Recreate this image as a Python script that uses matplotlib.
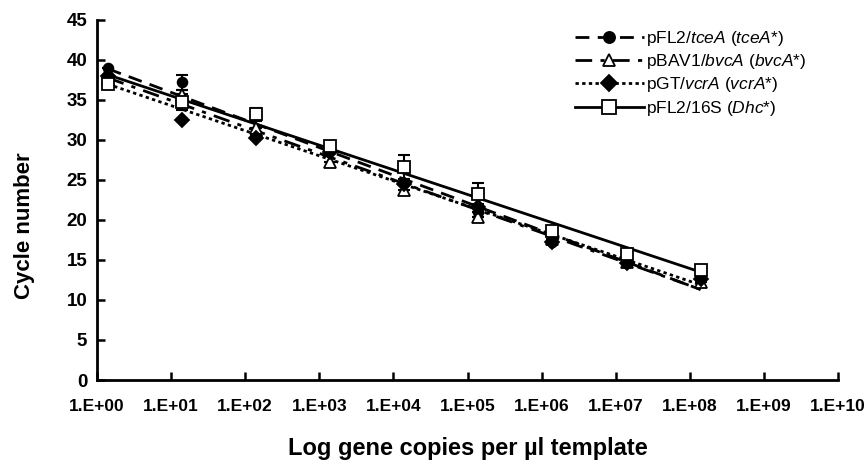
import numpy as np
import matplotlib.pyplot as plt

plt.rcParams['font.family'] = ['Liberation Sans', 'DejaVu Sans']
plt.rcParams['mathtext.fontset'] = 'custom'
plt.rcParams['mathtext.rm'] = 'Liberation Sans'
plt.rcParams['mathtext.it'] = 'Liberation Sans:italic'

copies = [1.4, 1.4e1, 1.4e2, 1.4e3, 1.4e4, 1.4e5, 1.4e6, 1.4e7, 1.4e8]

tcea = [39.0, 37.2, 30.6, 28.8, 24.6, 21.0, 17.3, 14.6, 12.8]
tcea_err = [0, 0.9, 0, 0, 0, 0, 0, 0, 0]
bvca = [37.6, 35.6, 31.5, 27.3, 23.8, 20.4, 17.6, 14.8, 12.3]
bvca_err = [0, 0.6, 0, 0, 0, 0, 0, 0, 0]
vcra = [38.0, 32.5, 30.3, 28.5, 24.5, 21.6, 17.3, 14.6, 12.6]
vcra_err = [0, 0, 0, 0, 0, 0, 0, 0, 0]
dhc = [37.0, 34.8, 33.2, 29.3, 26.6, 23.3, 18.6, 15.8, 13.8]
dhc_err = [0, 1.0, 0.8, 0.4, 1.5, 1.3, 0.4, 0, 0]

labels = ['pFL2/$\\it{tceA}$ ($\\it{tceA}$*)',
          'pBAV1/$\\it{bvcA}$ ($\\it{bvcA}$*)',
          'pGT/$\\it{vcrA}$ ($\\it{vcrA}$*)',
          'pFL2/16S ($\\it{Dhc}$*)']

series = [
    (tcea, tcea_err, 'o', 'k', (0, (5, 3)), 2.0, 7),
    (bvca, bvca_err, '^', 'white', (0, (6, 3, 1.5, 3)), 2.0, 8),
    (vcra, vcra_err, 'D', 'k', (0, (1.2, 1.2)), 2.0, 7),
    (dhc, dhc_err, 's', 'white', '-', 2.0, 9),
]

fig = plt.figure(figsize=(8.66, 4.65), dpi=100)
ax = fig.add_axes([97 / 866, 85 / 465, 741 / 866, 360 / 465])

x = np.array(copies)
lx = np.log10(x)
for (y, err, m, fc, ls, lw, ms), lab in zip(series, labels):
    y = np.array(y)
    ax.errorbar(x, y, yerr=err, fmt='none', ecolor='k', elinewidth=1.5,
                capsize=4, capthick=1.5, zorder=3)
    ax.plot(x, y, linestyle='none', marker=m, mfc=fc, mec='k', mew=1.3,
            ms=ms, zorder=4)
    k, b = np.polyfit(lx, y, 1)
    ax.plot(x, k * lx + b, color='k', linestyle=ls, linewidth=lw, zorder=2)
    ax.plot([], [], color='k', linestyle=ls, linewidth=lw, marker=m,
            mfc=fc, mec='k', mew=1.3, ms=ms + 1, label=lab)

ax.set_xscale('log')
ax.set_xlim(1, 1e10)
ax.set_ylim(0, 45)
ticks = [10.0 ** i for i in range(11)]
ax.set_xticks(ticks)
ax.set_xticklabels(['1.E+%02d' % i for i in range(11)])
ax.minorticks_off()
ax.set_yticks(range(0, 46, 5))

for s in ['top', 'right']:
    ax.spines[s].set_visible(False)
for s in ['left', 'bottom']:
    ax.spines[s].set_linewidth(2)
ax.tick_params(direction='in', width=1.8, length=6, labelsize=12.5, pad=7)
ax.tick_params(axis='y', labelsize=13.5)
ax.tick_params(axis='x', pad=14)
for t in ax.get_xticklabels() + ax.get_yticklabels():
    t.set_fontweight('bold')

ax.set_xlabel('Log gene copies per µl template', fontsize=17,
              fontweight='bold', labelpad=16)
ax.set_ylabel('Cycle number', fontsize=16, fontweight='bold')
ax.yaxis.set_label_coords(-0.083, 0.43)

ax.legend(loc='upper right', bbox_to_anchor=(0.978, 1.018), frameon=False,
          fontsize=12.5, handlelength=4.0, handletextpad=0.1,
          labelspacing=0.24)

fig.savefig('out.png', dpi=100)
